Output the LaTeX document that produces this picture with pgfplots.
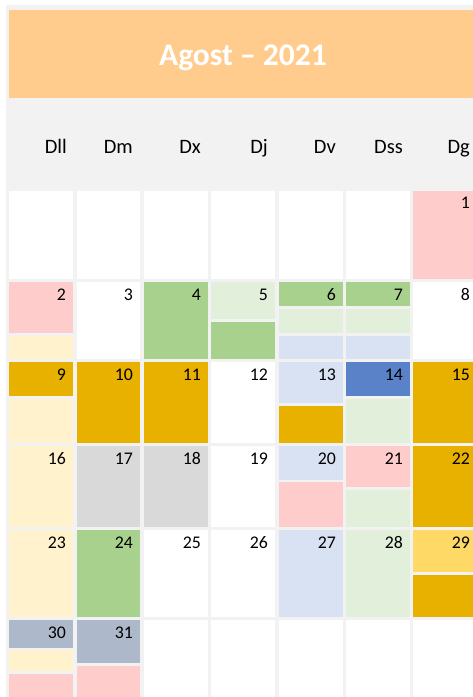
\documentclass[border=0pt]{standalone}
\usepackage{pgfplots}
\pgfplotsset{compat=1.18}
\usepackage{fontspec}
\setmainfont{Carlito}
\definecolor{cBg}{HTML}{F2F2F2}
\definecolor{cHead}{HTML}{FFCC8E}
\definecolor{cPink}{HTML}{FFCCCC}
\definecolor{cLYel}{HTML}{FFF2CC}
\definecolor{cGreen}{HTML}{A9D18E}
\definecolor{cLGreen}{HTML}{E2EFDA}
\definecolor{cLBlue}{HTML}{D9E2F3}
\definecolor{cBlue}{HTML}{5A82C8}
\definecolor{cGold}{HTML}{E8B100}
\definecolor{cYel}{HTML}{FFD966}
\definecolor{cGray}{HTML}{D9D9D9}
\definecolor{cBGray}{HTML}{ADB9CA}
% rectangle: colour, x1, y1, x2, y2
\newcommand{\blk}[5]{\addplot[fill=#1,draw=none] coordinates {(#2,#3) (#4,#3) (#4,#5) (#2,#5)};}
\begin{document}
\begin{tikzpicture}
\begin{axis}[
  width=473bp, height=697bp, scale only axis,
  xmin=0, xmax=473, ymin=0, ymax=697, y dir=reverse,
  hide axis, clip=true,
]
\blk{white}{0}{0}{473}{697}
\blk{cBg}{6}{5}{473}{697}
\blk{cHead}{9}{10}{473}{98}
% row 1
\blk{white}{9}{191}{73}{279}
\blk{white}{77}{191}{140}{279}
\blk{white}{144}{191}{208}{279}
\blk{white}{211}{191}{275}{279}
\blk{white}{279}{191}{343}{279}
\blk{white}{346}{191}{410}{279}
\blk{cPink}{413}{191}{477}{279}
% row 2
\blk{cPink}{9}{282}{73}{333}
\blk{cLYel}{9}{335.5}{73}{359}
\blk{white}{77}{282}{140}{359}
\blk{cGreen}{144}{282}{208}{359}
\blk{cLGreen}{211}{282}{275}{319}
\blk{cGreen}{211}{321.5}{275}{359}
\blk{cGreen}{279}{282}{343}{306}
\blk{cLGreen}{279}{309}{343}{333}
\blk{cLBlue}{279}{336}{343}{359}
\blk{cGreen}{346}{282}{410}{306}
\blk{cLGreen}{346}{309}{410}{333}
\blk{cLBlue}{346}{336}{410}{359}
\blk{white}{413}{282}{477}{359}
% row 3
\blk{cGold}{9}{362}{73}{396}
\blk{cLYel}{9}{398.5}{73}{443}
\blk{cGold}{77}{362}{140}{443}
\blk{cGold}{144}{362}{208}{443}
\blk{white}{211}{362}{275}{443}
\blk{cLBlue}{279}{362}{343}{403}
\blk{cGold}{279}{406}{343}{443}
\blk{cBlue}{346}{362}{410}{396}
\blk{cLGreen}{346}{399}{410}{443}
\blk{cGold}{413}{362}{477}{443}
% row 4
\blk{cLYel}{9}{446}{73}{527}
\blk{cGray}{77}{446}{140}{527}
\blk{cGray}{144}{446}{208}{527}
\blk{white}{211}{446}{275}{527}
\blk{cLBlue}{279}{446}{343}{479.5}
\blk{cPink}{279}{482}{343}{527}
\blk{cPink}{346}{446}{410}{487}
\blk{cLGreen}{346}{489.5}{410}{527}
\blk{cGold}{413}{446}{477}{527}
% row 5
\blk{cLYel}{9}{529.5}{73}{617}
\blk{cGreen}{77}{529.5}{140}{617}
\blk{white}{144}{529.5}{208}{617}
\blk{white}{211}{529.5}{275}{617}
\blk{cLBlue}{279}{529.5}{343}{617}
\blk{cLGreen}{346}{529.5}{410}{617}
\blk{cYel}{413}{529.5}{477}{572}
\blk{cGold}{413}{575}{477}{617}
% row 6
\blk{cBGray}{9}{620}{73}{647.5}
\blk{cLYel}{9}{650}{73}{671}
\blk{cPink}{9}{674}{73}{700}
\blk{cBGray}{77}{620}{140}{663}
\blk{cPink}{77}{666}{140}{700}
\blk{white}{144}{620}{208}{700}
\blk{white}{211}{620}{275}{700}
\blk{white}{279}{620}{343}{700}
\blk{white}{346}{620}{410}{700}
\blk{white}{413}{620}{477}{700}
% title
\addplot[only marks, mark=none, point meta=explicit symbolic, nodes near coords,
  every node near coord/.append style={anchor=base, inner sep=0pt, text=white,
  font=\fontsize{31.5bp}{34bp}\selectfont\bfseries}]
  coordinates {(243,65.7) [Agost – 2021]};
% weekday names
\addplot[only marks, mark=none, point meta=explicit symbolic, nodes near coords,
  every node near coord/.append style={anchor=base east, inner sep=0pt, text=black,
  font=\fontsize{20.5bp}{23bp}\selectfont}]
  table[meta=label] {
x y label
67 153.3 Dll
133 153.3 Dm
201 153.3 Dx
268 153.3 Dj
336 153.3 Dv
403 153.3 Dss
470 153.3 Dg
};
% day numbers
\addplot[only marks, mark=none, point meta=explicit symbolic, nodes near coords,
  every node near coord/.append style={anchor=base east, inner sep=0pt, text=black,
  font=\fontsize{17.8bp}{20bp}\selectfont}]
  table[meta=label] {
x y label
470 209 1
66 300 2
133 300 3
201 300 4
268 300 5
336 300 6
403 300 7
470 300 8
66 380 9
133 380 10
201 380 11
268 380 12
336 380 13
403 380 14
470 380 15
66 464 16
133 464 17
201 464 18
268 464 19
336 464 20
403 464 21
470 464 22
66 548 23
133 548 24
201 548 25
268 548 26
336 548 27
403 548 28
470 548 29
66 638.5 30
133 638.5 31
};
\end{axis}
\end{tikzpicture}
\end{document}
